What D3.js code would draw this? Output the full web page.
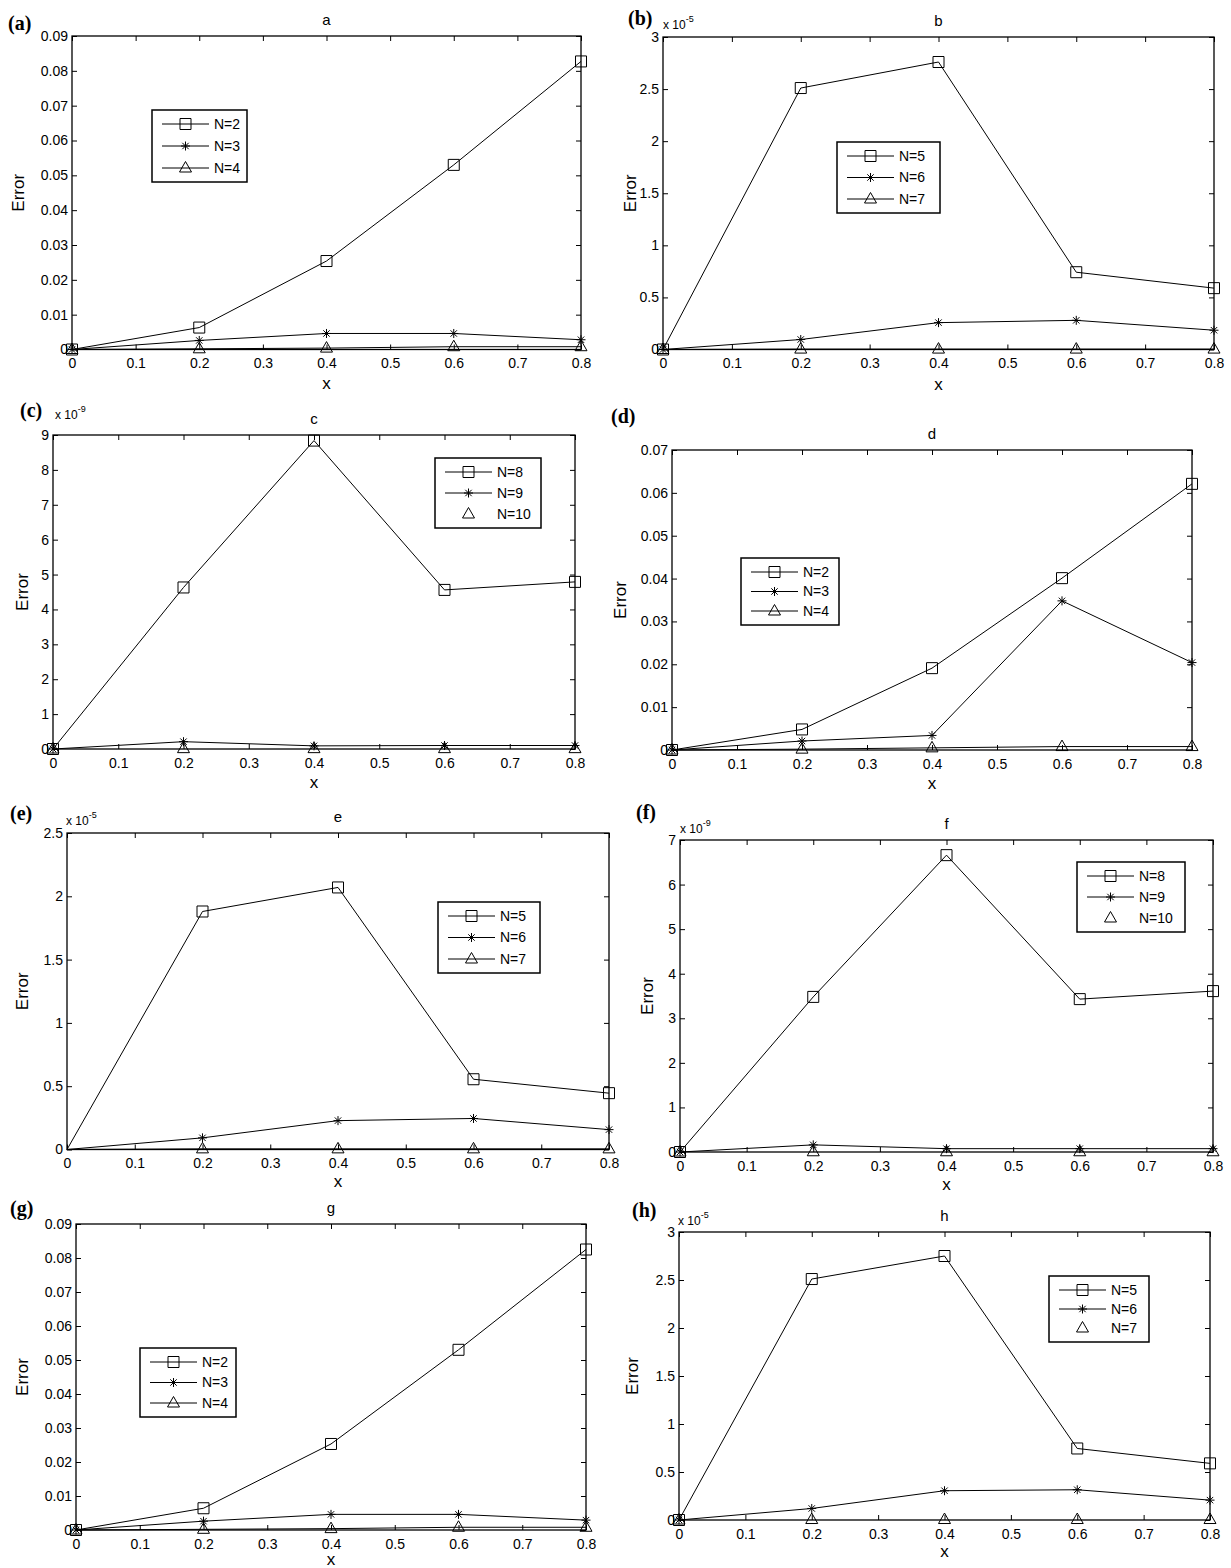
<!DOCTYPE html>
<html><head><meta charset="utf-8">
<script src="https://cdn.jsdelivr.net/npm/d3@7"></script>
<style>
body{margin:0;background:#fff}
svg{display:block}
text{font-family:"Liberation Sans",Arial,sans-serif;fill:#000}
</style>
</head><body><svg id="chart" width="1231" height="1568"></svg>
<script>
// ---------------- data ----------------
const xValues = [0, 0.2, 0.4, 0.6, 0.8];
const xTicks = [0, 0.1, 0.2, 0.3, 0.4, 0.5, 0.6, 0.7, 0.8];
const xTickLabels = ["0", "0.1", "0.2", "0.3", "0.4", "0.5", "0.6", "0.7", "0.8"];

const smallTicks = [0, 0.01, 0.02, 0.03, 0.04, 0.05, 0.06, 0.07, 0.08, 0.09];
const smallTickLabels = ["0", "0.01", "0.02", "0.03", "0.04", "0.05", "0.06", "0.07", "0.08", "0.09"];
const e5Ticks = [0, 0.5e-5, 1e-5, 1.5e-5, 2e-5, 2.5e-5, 3e-5];
const e5TickLabels = ["0", "0.5", "1", "1.5", "2", "2.5", "3"];
const e9Ticks = [0, 1e-9, 2e-9, 3e-9, 4e-9, 5e-9, 6e-9, 7e-9, 8e-9, 9e-9];
const e9TickLabels = ["0", "1", "2", "3", "4", "5", "6", "7", "8", "9"];

// (a)
const aN2 = [0, 0.0063, 0.0254, 0.0530, 0.0827];
const aN3 = [0, 0.0026, 0.0046, 0.0046, 0.0028];
const aN4 = [0, 0.0002, 0.0004, 0.0008, 0.0008];
// (b)
const bN5 = [0, 2.51e-5, 2.76e-5, 0.742e-5, 0.589e-5];
const bN6 = [0, 0.096e-5, 0.258e-5, 0.280e-5, 0.185e-5];
const bN7 = [0, 0.004e-5, 0.004e-5, 0.004e-5, 0.004e-5];
// (c)
const cN8 = [0, 4.63e-9, 8.84e-9, 4.56e-9, 4.79e-9];
const cN9 = [0, 0.21e-9, 0.09e-9, 0.10e-9, 0.10e-9];
const cN10 = [0, 0.01e-9, 0.01e-9, 0.01e-9, 0.01e-9];
// (d)
const dN2 = [0, 0.0048, 0.0191, 0.0401, 0.0621];
const dN3 = [0, 0.0021, 0.0034, 0.0348, 0.0204];
const dN4 = [0, 0.0002, 0.0005, 0.0008, 0.0008];
// (e)
const eN5 = [0, 1.88e-5, 2.07e-5, 0.555e-5, 0.445e-5];
const eN6 = [0, 0.092e-5, 0.228e-5, 0.245e-5, 0.157e-5];
const eN7 = [0, 0.005e-5, 0.005e-5, 0.005e-5, 0.005e-5];
// (f)
const fN8 = [0, 3.48e-9, 6.66e-9, 3.43e-9, 3.61e-9];
const fN9 = [0, 0.16e-9, 0.075e-9, 0.075e-9, 0.075e-9];
const fN10 = [0, 0.005e-9, 0.005e-9, 0.005e-9, 0.005e-9];
// (g)
const gN2 = [0, 0.0064, 0.0253, 0.0530, 0.0825];
const gN3 = [0, 0.0026, 0.0046, 0.0046, 0.0029];
const gN4 = [0, 0.0002, 0.0004, 0.0008, 0.0008];
// (h)
const hN5 = [0, 2.51e-5, 2.75e-5, 0.745e-5, 0.590e-5];
const hN6 = [0, 0.12e-5, 0.305e-5, 0.315e-5, 0.207e-5];
const hN7 = [0, 0.005e-5, 0.005e-5, 0.005e-5, 0.005e-5];

// ---------------- layout ----------------
const panels = [
  {tag:"(a)", title:"a", box:[72,581,36,349.5], yMax:0.09, yTicks:smallTicks, yLabels:smallTickLabels, exp:null,
   tagPos:[8,30], ylabX:18, xlabY:383, legend:[152,110,95,72],
   series:[{name:"N=2",v:aN2,m:"sq",line:true},{name:"N=3",v:aN3,m:"st",line:true},{name:"N=4",v:aN4,m:"tr",line:true}]},
  {tag:"(b)", title:"b", box:[663,1214,37,349.5], yMax:3e-5, yTicks:e5Ticks, yLabels:e5TickLabels, exp:"-5",
   tagPos:[628,25], expPos:[663,29], ylabX:630, xlabY:384, legend:[837,142,103,71],
   series:[{name:"N=5",v:bN5,m:"sq",line:true},{name:"N=6",v:bN6,m:"st",line:true},{name:"N=7",v:bN7,m:"tr",line:true}]},
  {tag:"(c)", title:"c", box:[53,575,435,749], yMax:9e-9, yTicks:e9Ticks, yLabels:e9TickLabels, exp:"-9",
   tagPos:[20,417], expPos:[55,419], ylabX:22, xlabY:782, legend:[435,458,106,70],
   series:[{name:"N=8",v:cN8,m:"sq",line:true},{name:"N=9",v:cN9,m:"st",line:true},{name:"N=10",v:cN10,m:"tr",line:false}]},
  {tag:"(d)", title:"d", box:[672,1192,450,750], yMax:0.07, yTicks:smallTicks.slice(0,8), yLabels:smallTickLabels.slice(0,8), exp:null,
   tagPos:[611,423], ylabX:620, xlabY:783, legend:[741,558,98,67],
   series:[{name:"N=2",v:dN2,m:"sq",line:true},{name:"N=3",v:dN3,m:"st",line:true},{name:"N=4",v:dN4,m:"tr",line:true}]},
  {tag:"(e)", title:"e", box:[67,609,833,1149.5], yMax:2.5e-5, yTicks:e5Ticks.slice(0,6), yLabels:e5TickLabels.slice(0,6), exp:"-5",
   tagPos:[10,820], expPos:[66,825], ylabX:22, xlabY:1181, legend:[438,902,102,71], skipFirstMarker:true,
   series:[{name:"N=5",v:eN5,m:"sq",line:true},{name:"N=6",v:eN6,m:"st",line:true},{name:"N=7",v:eN7,m:"tr",line:true}]},
  {tag:"(f)", title:"f", box:[680,1213,840,1152], yMax:7e-9, yTicks:e9Ticks.slice(0,8), yLabels:e9TickLabels.slice(0,8), exp:"-9",
   tagPos:[636,819], expPos:[680,833], ylabX:647, xlabY:1184, legend:[1077,862,108,70],
   series:[{name:"N=8",v:fN8,m:"sq",line:true},{name:"N=9",v:fN9,m:"st",line:true},{name:"N=10",v:fN10,m:"tr",line:false}]},
  {tag:"(g)", title:"g", box:[76,586,1224,1530], yMax:0.09, yTicks:smallTicks, yLabels:smallTickLabels, exp:null,
   tagPos:[10,1215], ylabX:22, xlabY:1559, legend:[140,1348,96,69],
   series:[{name:"N=2",v:gN2,m:"sq",line:true},{name:"N=3",v:gN3,m:"st",line:true},{name:"N=4",v:gN4,m:"tr",line:true}]},
  {tag:"(h)", title:"h", box:[679,1210,1232,1520], yMax:3e-5, yTicks:e5Ticks, yLabels:e5TickLabels, exp:"-5",
   tagPos:[632,1217], expPos:[678,1225], ylabX:632, xlabY:1551, legend:[1049,1276,100,66],
   series:[{name:"N=5",v:hN5,m:"sq",line:true},{name:"N=6",v:hN6,m:"st",line:true},{name:"N=7",v:hN7,m:"tr",line:false}]}
];

const markerPath = {
  sq: "M-5.5,-5.5H5.5V5.5H-5.5Z",
  st: "M-4.5,0H4.5M0,-4.5V4.5M-3.2,-3.2L3.2,3.2M-3.2,3.2L3.2,-3.2",
  tr: "M0,-6.5L6,4L-6,4Z"
};

const svg = d3.select("#chart");
svg.append("rect").attr("width",1231).attr("height",1568).attr("fill","#fff");

function styleAxis(sel){
  sel.select(".domain").remove();
  sel.selectAll("line").attr("stroke","#000").attr("stroke-width",1);
  sel.selectAll("text").attr("font-size",14).attr("font-family","Liberation Sans, Arial, sans-serif").attr("fill","#000");
}

panels.forEach(p => {
  const [L,R,T,B] = p.box;
  const g = svg.append("g");
  const x = d3.scaleLinear().domain([0,0.8]).range([L,R]);
  const y = d3.scaleLinear().domain([0,p.yMax]).range([B,T]);

  g.append("g").attr("transform",`translate(0,${B})`)
    .call(d3.axisBottom(x).tickValues(xTicks).tickFormat((d,i)=>xTickLabels[i]).tickSizeInner(-5).tickSizeOuter(0).tickPadding(9))
    .call(styleAxis);
  g.append("g").attr("transform",`translate(0,${T})`)
    .call(d3.axisTop(x).tickValues(xTicks).tickFormat("").tickSizeInner(-5).tickSizeOuter(0))
    .call(styleAxis);
  g.append("g").attr("transform",`translate(${L},0)`)
    .call(d3.axisLeft(y).tickValues(p.yTicks).tickFormat((d,i)=>p.yLabels[i]).tickSizeInner(-5).tickSizeOuter(0).tickPadding(4))
    .call(styleAxis);
  g.append("g").attr("transform",`translate(${R},0)`)
    .call(d3.axisRight(y).tickValues(p.yTicks).tickFormat("").tickSizeInner(-5).tickSizeOuter(0))
    .call(styleAxis);

  const line = d3.line().x((d,i)=>x(xValues[i])).y(d=>y(d));
  p.series.forEach(s => {
    if (s.line) g.append("path").attr("d",line(s.v)).attr("fill","none").attr("stroke","#000").attr("stroke-width",1);
    g.selectAll(null).data(s.v.map((v,i)=>({v,i})).filter(d=>!(p.skipFirstMarker && d.i===0)))
      .enter().append("path")
      .attr("d",markerPath[s.m])
      .attr("transform",d=>`translate(${x(xValues[d.i])},${y(d.v)})`)
      .attr("fill","none").attr("stroke","#000").attr("stroke-width",1);
  });

  g.append("rect").attr("x",L).attr("y",T).attr("width",R-L).attr("height",B-T)
    .attr("fill","none").attr("stroke","#000").attr("stroke-width",1.3);

  // title
  g.append("text").attr("x",(L+R)/2).attr("y",T-11).attr("text-anchor","middle").attr("font-size",15).text(p.title);
  // panel tag
  g.append("text").attr("x",p.tagPos[0]).attr("y",p.tagPos[1]).attr("font-size",20).attr("font-weight","bold")
    .style("font-family","'Liberation Serif','Times New Roman',serif").text(p.tag);
  // exponent
  if (p.exp) {
    const t = g.append("text").attr("x",p.expPos[0]).attr("y",p.expPos[1]).attr("font-size",12);
    t.append("tspan").text("x 10");
    t.append("tspan").attr("dy",-7).attr("font-size",9).text(p.exp);
  }
  // axis labels
  g.append("text").attr("transform",`translate(${p.ylabX},${(T+B)/2}) rotate(-90)`)
    .attr("text-anchor","middle").attr("dy","0.35em").attr("font-size",17).text("Error");
  g.append("text").attr("x",(L+R)/2).attr("y",p.xlabY).attr("dy","0.35em")
    .attr("text-anchor","middle").attr("font-size",17).text("x");

  // legend
  const [lx,ly,lw,lh] = p.legend;
  const lg = g.append("g");
  lg.append("rect").attr("x",lx).attr("y",ly).attr("width",lw).attr("height",lh)
    .attr("fill","#fff").attr("stroke","#000").attr("stroke-width",1.5);
  const rowStep = (lh-28)/2;
  p.series.forEach((s,i) => {
    const ry = ly + 14 + i*rowStep;
    if (s.line) lg.append("line").attr("x1",lx+10).attr("x2",lx+57).attr("y1",ry).attr("y2",ry)
      .attr("stroke","#000").attr("stroke-width",1);
    lg.append("path").attr("d",markerPath[s.m]).attr("transform",`translate(${lx+33.5},${ry})`)
      .attr("fill","none").attr("stroke","#000").attr("stroke-width",1);
    lg.append("text").attr("x",lx+62).attr("y",ry).attr("dy","0.35em").attr("font-size",14).text(s.name);
  });
});
</script>
</body></html>
